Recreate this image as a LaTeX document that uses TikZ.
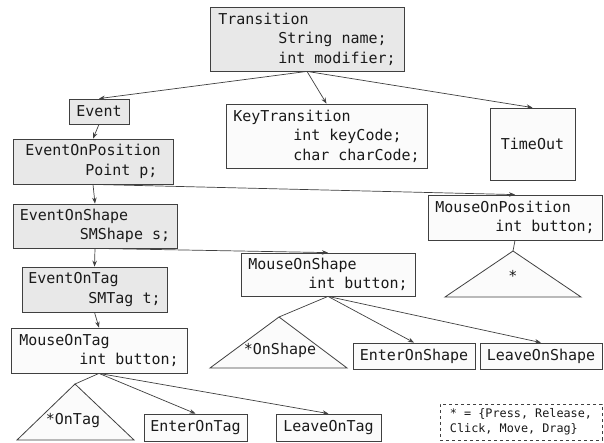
\documentclass[tikz,border=0pt]{standalone}
\usepackage{fontspec}
\setmonofont{DejaVu Sans Mono}
\usetikzlibrary{arrows.meta}
\definecolor{boxgray}{HTML}{E8E8E8}
\definecolor{boxwhite}{HTML}{FBFBFB}
\definecolor{linecol}{HTML}{404040}
\definecolor{txtcol}{HTML}{1A1A1A}
\newcommand{\ind}{\hspace*{60pt}}
\tikzset{
  umlbox/.style={draw=linecol, line width=0.8pt, fill=boxwhite, text=txtcol,
    inner sep=0pt, align=left, font=\ttfamily\fontsize{15}{19.5}\selectfont},
  graybox/.style={umlbox, fill=boxgray},
  notebox/.style={draw=linecol, dashed, line width=0.8pt, fill=white, text=txtcol,
    inner sep=0pt, align=left, font=\ttfamily\fontsize{11.8}{15}\selectfont},
  tri/.style={draw=linecol, line width=0.8pt, fill=boxwhite},
  trilabel/.style={text=txtcol, inner sep=0pt, font=\ttfamily\fontsize{15}{19.5}\selectfont},
  arr/.style={draw=linecol, line width=0.7pt, -{Stealth[length=6pt,width=4.5pt]}},
  ln/.style={draw=linecol, line width=0.7pt}
}
\begin{document}
\begin{tikzpicture}[x=1pt,y=-1pt]
\useasboundingbox[fill=white] (0,0) rectangle (604,443);

% nodes
\node[graybox, minimum width=194pt, minimum height=64pt] (trans) at (307,39)
  {Transition\\\ind String name;\\\ind int modifier;};
\node[graybox, minimum width=60pt, minimum height=25pt] (event) at (99,111.5) {Event};
\node[graybox, minimum width=160pt, minimum height=45pt] (eop) at (93,161.5)
  {EventOnPosition\\\ind Point p;};
\node[umlbox, minimum width=201pt, minimum height=64pt] (key) at (326.5,136)
  {KeyTransition\\\ind int keyCode;\\\ind char charCode;};
\node[umlbox, minimum width=85pt, minimum height=72pt] (timeout) at (532.5,144) {TimeOut};
\node[umlbox, minimum width=174pt, minimum height=45pt] (mop) at (515,217.5)
  {MouseOnPosition\\\ind int button;};
\node[graybox, minimum width=164pt, minimum height=44pt] (eos) at (95,226)
  {EventOnShape\\\ind SMShape s;};
\node[umlbox, minimum width=174pt, minimum height=43pt] (mos) at (328,274.5)
  {MouseOnShape\\\ind int button;};
\node[graybox, minimum width=145pt, minimum height=45pt] (eot) at (94.5,289.5)
  {EventOnTag\\\ind SMTag t;};
\node[umlbox, minimum width=176pt, minimum height=45pt] (mot) at (99,350.5)
  {MouseOnTag\\\ind int button;};
\node[umlbox, minimum width=122pt, minimum height=26pt] (enteros) at (414,356) {EnterOnShape};
\node[umlbox, minimum width=122pt, minimum height=26pt] (leaveos) at (541,356) {LeaveOnShape};
\node[umlbox, minimum width=103pt, minimum height=27pt] (enterot) at (195.5,427.5) {EnterOnTag};
\node[umlbox, minimum width=105pt, minimum height=27pt] (leaveot) at (328.5,427.5) {LeaveOnTag};
\node[notebox, minimum width=162pt, minimum height=36pt] (note) at (521,422)
  {* = \{Press, Release,\\Click, Move, Drag\}};

% triangles
\coordinate (apexA) at (513,251);
\draw[tri] (apexA) -- (581,297) -- (445,297) -- cycle;
\node[trilabel] (labA) at (513,276) {*};
\coordinate (apexB) at (279,317);
\draw[tri] (apexB) -- (347,368) -- (210,368) -- cycle;
\node[trilabel] (labB) at (280,350) {*OnShape};
\coordinate (apexC) at (75,384);
\draw[tri] (apexC) -- (134,440) -- (17,440) -- cycle;
\node[trilabel] (labC) at (73,421) {*OnTag};

% connectors
\draw[arr] (trans.south) -- (event.north);
\draw[arr] (trans.south) -- (key.north);
\draw[arr] (trans.south) -- (timeout.north);
\draw[arr] (event.south) -- (eop.north);
\draw[arr] (eop.south) -- (eos.north);
\draw[arr] (eop.south) -- (mop.north);
\draw[arr] (eos.south) -- (eot.north);
\draw[arr] (eos.south) -- (mos.north);
\draw[arr] (eot.south) -- (mot.north);
\draw[ln] (mop.south) -- (apexA);
\draw[ln] (mos.south) -- (apexB);
\draw[arr] (mos.south) -- (enteros.north);
\draw[arr] (mos.south) -- (leaveos.north);
\draw[ln] (mot.south) -- (apexC);
\draw[arr] (mot.south) -- (enterot.north);
\draw[arr] (mot.south) -- (leaveot.north);
\end{tikzpicture}
\end{document}
